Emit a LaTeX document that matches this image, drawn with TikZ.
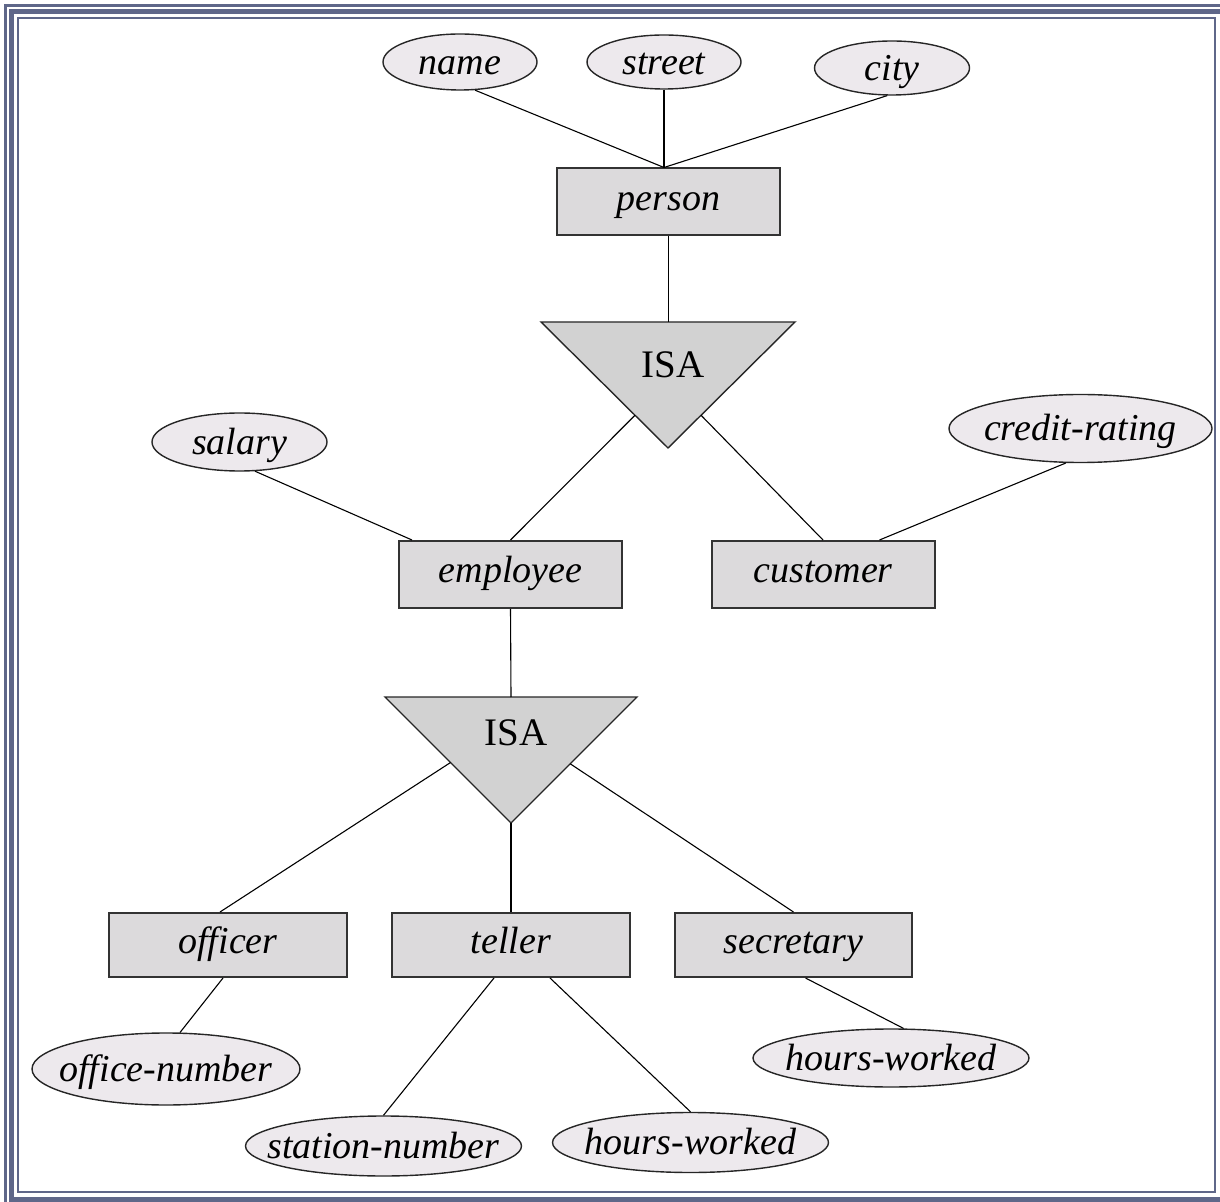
\documentclass[tikz,border=0pt]{standalone}
\usepackage{fontspec}
\setmainfont{Liberation Serif}
\usetikzlibrary{shapes.geometric,calc}
\definecolor{framec}{HTML}{5F6789}
\definecolor{ellfill}{HTML}{EDE9ED}
\definecolor{entfill}{HTML}{DCDADC}
\definecolor{isafill}{HTML}{D2D2D2}
\newcommand{\etxt}[1]{\makebox[0pt]{\smash{\raisebox{-0.32em}{#1}}}}
\newcommand{\rtxt}[1]{\makebox[0pt]{\smash{\raisebox{-0.22em}{#1}}}}
\begin{document}
\begin{tikzpicture}[x=0.5pt,y=-0.5pt,
  lbl/.style={font=\fontsize{19.5}{23}\selectfont, inner sep=0pt},
  attr/.style={ellipse, draw=black!85, line width=0.7pt, fill=ellfill, inner sep=0pt,
    font=\fontsize{19}{23}\selectfont\itshape},
  ent/.style={rectangle, draw=black!80, line width=1pt, fill=entfill, inner sep=0pt,
    minimum width=111.5pt, minimum height=33.5pt, font=\fontsize{19}{23}\selectfont\itshape},
  isa/.style={fill=isafill, draw=black!85, line width=0.7pt},
  link/.style={draw=black, line width=0.55pt}]
\useasboundingbox (0,0) rectangle (1220,1202);
% frame
\begin{scope}
\clip (0,0) rectangle (1220,1202);
\draw[framec, line width=1.3pt] (5.5,5.5) rectangle (1250,1250);
\draw[framec, line width=2.4pt] (11.7,11.7) rectangle (1225,1199.5);
\draw[framec, line width=1.1pt] (17.8,17.8) rectangle (1215,1191.7);
\end{scope}
% top ISA triangle
\coordinate (t1L) at (541,322);
\coordinate (t1R) at (795,322);
\coordinate (t1B) at (668,448);
\coordinate (t1T) at (668.5,322);
\coordinate (t1l) at ($(t1L)!0.74!(t1B)$);
\coordinate (t1r) at ($(t1R)!0.74!(t1B)$);
\path[isa] (t1L) -- (t1R) -- (t1B) -- cycle;
\node[lbl] (isa1) at (673,365) {ISA};
% bottom ISA triangle
\coordinate (t2L) at (385,697);
\coordinate (t2R) at (637,697);
\coordinate (t2B) at (511,823);
\coordinate (t2T) at (511,697);
\coordinate (t2l) at ($(t2L)!0.52!(t2B)$);
\coordinate (t2r) at ($(t2R)!0.53!(t2B)$);
\path[isa] (t2L) -- (t2R) -- (t2B) -- cycle;
\node[lbl] (isa2) at (516,733) {ISA};
% attributes
\node[attr, minimum width=77pt, minimum height=28pt] (name) at (460,62) {\etxt{name}};
\node[attr, minimum width=77pt, minimum height=27pt] (street) at (664,62) {\etxt{street}};
\node[attr, minimum width=77.5pt, minimum height=27pt] (city) at (892,68) {\etxt{city}};
\node[attr, minimum width=87.5pt, minimum height=29pt] (salary) at (239.5,442) {\etxt{salary}};
\node[attr, minimum width=131.5pt, minimum height=34pt] (credit) at (1080.5,428.5) {\etxt{credit-rating}};
\node[attr, minimum width=134pt, minimum height=36pt] (office) at (166,1069) {\etxt{office-number}};
\node[attr, minimum width=138pt, minimum height=30pt] (station) at (383.5,1146) {\etxt{station-number}};
\node[attr, minimum width=138pt, minimum height=30pt] (hoursA) at (690.5,1142.5) {\etxt{hours-worked}};
\node[attr, minimum width=138pt, minimum height=29pt] (hoursB) at (891,1058) {\etxt{hours-worked}};
% entities
\node[ent] (person) at (668.5,202) {\rtxt{person}};
\node[ent] (employee) at (510.5,574.5) {\rtxt{employee}};
\node[ent] (customer) at (823,574.5) {\rtxt{customer}};
\node[ent, minimum width=119pt, minimum height=32pt] (officer) at (228,945) {\rtxt{officer}};
\node[ent, minimum width=119pt, minimum height=32pt] (teller) at (511,945) {\rtxt{teller}};
\node[ent, minimum width=118.5pt, minimum height=32pt] (secretary) at (793.5,945) {\rtxt{secretary}};
% connectors
\draw[link] (name.-62) -- ([xshift=-2.25pt]person.north);
\draw[link] (street.south) -- ([xshift=-2.25pt]person.north);
\draw[link] (city.-100) -- ([xshift=-2.25pt]person.north);
\draw[link] (person.south) -- (t1T);
\draw[link] (t1l) -- (employee.north);
\draw[link] (t1r) -- (customer.north);
\draw[link] (salary.-62) -- ([xshift=7pt]employee.north west);
\draw[link] (credit.-113) -- ([xshift=-28pt]customer.north east);
\draw[link] (employee.south) -- (t2T);
\draw[link] (t2l) -- ([xshift=-4pt]officer.north);
\draw[link] (t2B) -- (teller.north);
\draw[link] (t2r) -- (secretary.north);
\draw[link] ([xshift=-2.5pt]officer.south) -- (office.69);
\draw[link] ([xshift=-8.5pt]teller.south) -- (station.north);
\draw[link] ([xshift=19.5pt]teller.south) -- (hoursA.north);
\draw[link] ([xshift=6pt]secretary.south) -- (hoursB.67);
\end{tikzpicture}
\end{document}
